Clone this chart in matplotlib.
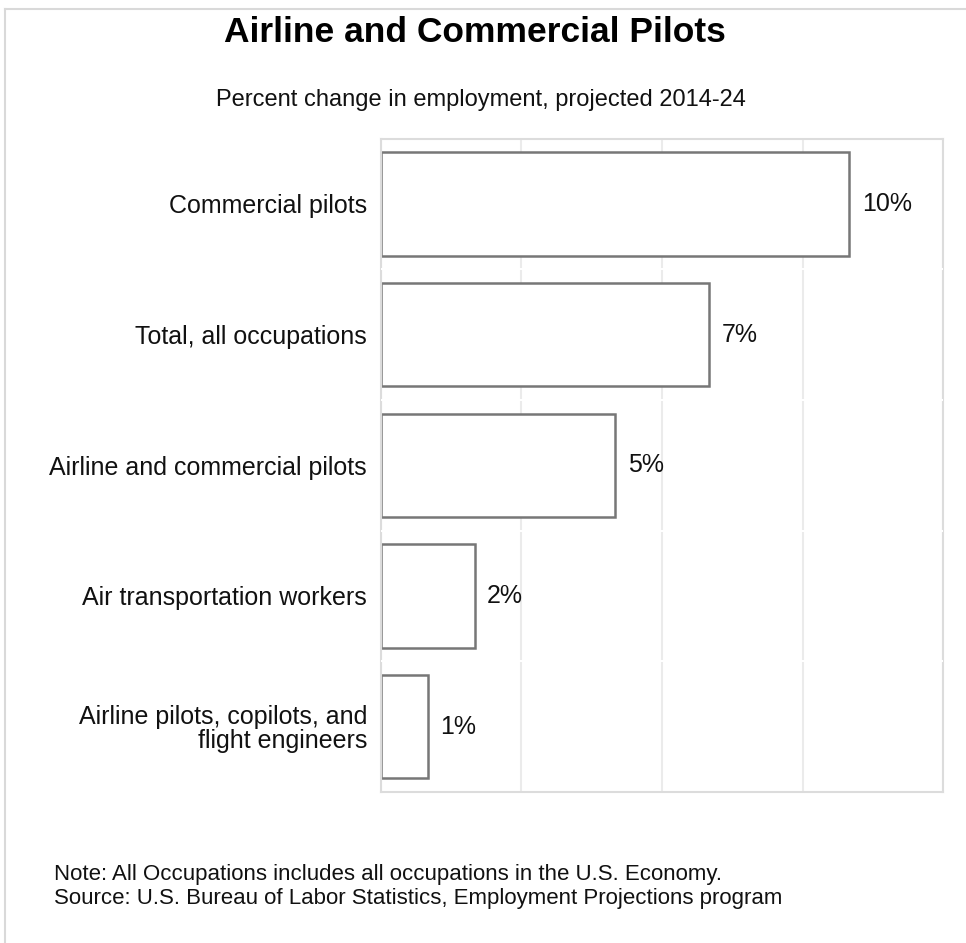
import matplotlib
matplotlib.use("Agg")
import matplotlib.pyplot as plt
from matplotlib.lines import Line2D

plt.rcParams["font.family"] = ["Liberation Sans", "DejaVu Sans"]

# data, top to bottom
categories = [
    "Commercial pilots",
    "Total, all occupations",
    "Airline and commercial pilots",
    "Air transportation workers",
    "Airline pilots, copilots, and\nflight engineers",
]
values = [10, 7, 5, 2, 1]
value_labels = ["10%", "7%", "5%", "2%", "1%"]

title = "Airline and Commercial Pilots"
subtitle = "Percent change in employment, projected 2014-24"
note = "Note: All Occupations includes all occupations in the U.S. Economy."
source = "Source: U.S. Bureau of Labor Statistics, Employment Projections program"

TEXT = "#111111"


def main():
    fig = plt.figure(figsize=(9.66, 9.43), dpi=100)
    ax = fig.add_axes([0.3944, 0.1601, 0.5818, 0.6930])

    y = list(range(len(categories)))
    ax.barh(y, values, height=0.79, color="white", edgecolor="#777777",
            linewidth=1.8, zorder=2)

    for yi, v, lab in zip(y, values, value_labels):
        ax.annotate(lab, (v, yi), xytext=(9, 0), textcoords="offset points",
                    ha="left", va="center", fontsize=18, color=TEXT)

    ax.set_xlim(0, 12)
    ax.set_ylim(len(categories) - 0.5, -0.5)
    ax.set_xticks([0, 3, 6, 9, 12])
    ax.set_xticklabels([])
    ax.set_yticks(y)
    ax.set_yticklabels(categories, fontsize=18, color=TEXT)
    for t in ax.get_yticklabels():
        t.set_linespacing(1.0)
    ax.tick_params(axis="both", length=0)
    ax.tick_params(axis="y", pad=10)
    ax.grid(True, axis="x", color="#ebebeb", linewidth=1.5, zorder=0)
    ax.set_axisbelow(True)
    for s in ax.spines.values():
        s.set_color("#dcdcdc")
        s.set_linewidth(1.5)
        s.set_zorder(4)

    # small gaps in the grid between categories
    for b in range(1, len(categories)):
        ax.axhline(b - 0.5, color="white", linewidth=1.5, zorder=5)

    fig.text(0.492, 0.966, title, ha="center", va="center", fontsize=25.5,
             fontweight="bold", color="black")
    fig.text(0.498, 0.894, subtitle, ha="center", va="center", fontsize=17,
             color=TEXT)
    fig.text(0.056, 0.073, note, ha="left", va="center", fontsize=16,
             color=TEXT)
    fig.text(0.056, 0.047, source, ha="left", va="center", fontsize=16,
             color=TEXT)

    # outer frame (top and left only visible)
    fig.add_artist(Line2D([0.005, 1.0], [0.9905, 0.9905], color="#d9d9d9",
                          linewidth=1.5, transform=fig.transFigure))
    fig.add_artist(Line2D([0.0052, 0.0052], [0.0, 0.9905], color="#d9d9d9",
                          linewidth=1.5, transform=fig.transFigure))

    fig.savefig("out.png", dpi=100)


if __name__ == "__main__":
    main()
